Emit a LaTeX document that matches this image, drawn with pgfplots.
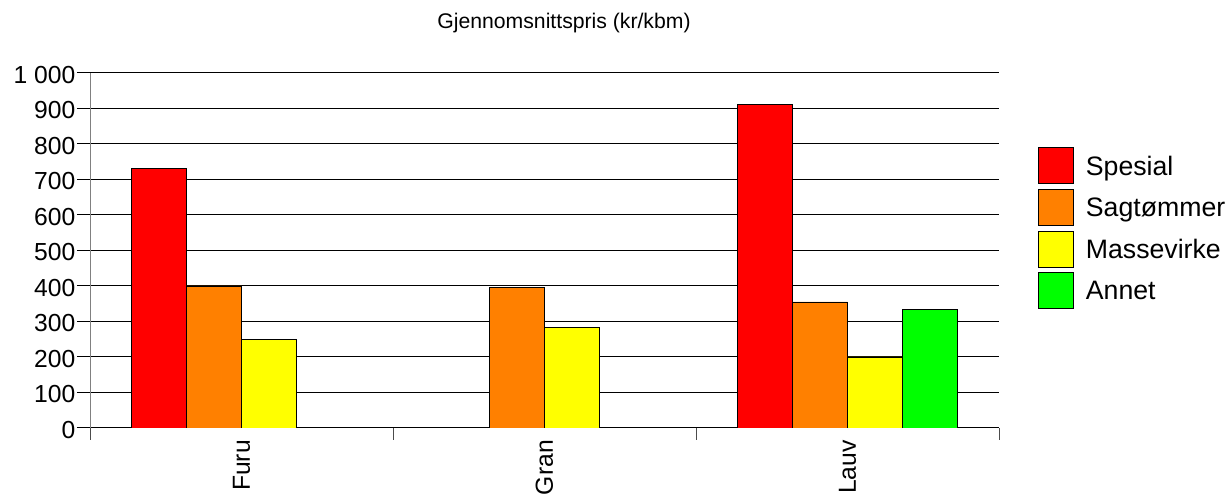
\documentclass[border=0pt]{standalone}
\usepackage{fontspec}
\setmainfont{Liberation Sans}
\usepackage{pgfplots}
\pgfplotsset{compat=1.18}

\definecolor{cSpes}{HTML}{FF0000}
\definecolor{cSag}{HTML}{FF8000}
\definecolor{cMas}{HTML}{FFFF00}
\definecolor{cAnn}{HTML}{00FF00}

\pgfplotsset{
  boxleg/.style={legend image code/.code={\draw[##1] (0pt,-12.7pt) rectangle (26.25pt,14.3pt);}},
}

\begin{document}
\begin{tikzpicture}
\path[use as bounding box] (0pt,0pt) rectangle (921pt,371.25pt);
\node[font=\fontsize{15.9}{18}\selectfont, anchor=base] at (423pt,349.5pt) {Gjennomsnittspris (kr/kbm)};
\begin{axis}[
    at={(67.5pt,50.25pt)}, anchor=south west,
    width=681.75pt, height=266.25pt, scale only axis,
    ybar, bar width=0.18152,
    xmin=-0.5, xmax=2.5, ymin=0, ymax=1000,
    axis x line=bottom, axis y line=left,
    x axis line style={-, black, line width=0.75pt},
    y axis line style={-, gray, line width=0.75pt},
    ytick={0,100,...,1000},
    ymajorgrids, grid style={black, line width=0.75pt},
    tick align=outside,
    ytick style={black, line width=0.75pt},
    major tick length=9.75pt,
    xtick={0,1,2}, xticklabels={Furu,Gran,Lauv},
    x tick style={draw=none},
    minor xtick={-0.5,0.5,1.5,2.5},
    minor x tick style={draw=gray!60!black, line width=0.75pt},
    minor tick length=9pt,
    xticklabel style={rotate=90, anchor=east, inner sep=0pt, font=\fontsize{18.5}{20}\selectfont},
    xticklabel shift=-0.75pt,
    yticklabel style={inner sep=1pt, font=\fontsize{18.5}{20}\selectfont, yshift=-1.5pt},
    /pgf/number format/assume math mode=true,
    /pgf/number format/1000 sep={\ },
    legend style={at={(1.0429,0.7915)}, anchor=north west, draw=none, fill=none,
        inner sep=0pt, row sep=3.75pt, font=\fontsize{20}{22}\selectfont,
        nodes={inner sep=0pt}},
    legend cell align=left,
    /tikz/every odd column/.append style={column sep=9pt},
]
\addplot[boxleg, fill=cSpes, draw=black, line width=0.5pt, bar shift=-0.27228] coordinates {(0,732) (2,911)};
\addplot[boxleg, fill=cSag, draw=black, line width=0.5pt, bar shift=-0.09076] coordinates {(0,400) (1,396) (2,355)};
\addplot[boxleg, fill=cMas, draw=black, line width=0.5pt, bar shift=0.09076] coordinates {(0,250) (1,283) (2,200)};
\addplot[boxleg, fill=cAnn, draw=black, line width=0.5pt, bar shift=0.27228] coordinates {(2,333)};
\legend{Spesial,Sagtømmer,Massevirke,Annet}
\end{axis}
\end{tikzpicture}
\end{document}
